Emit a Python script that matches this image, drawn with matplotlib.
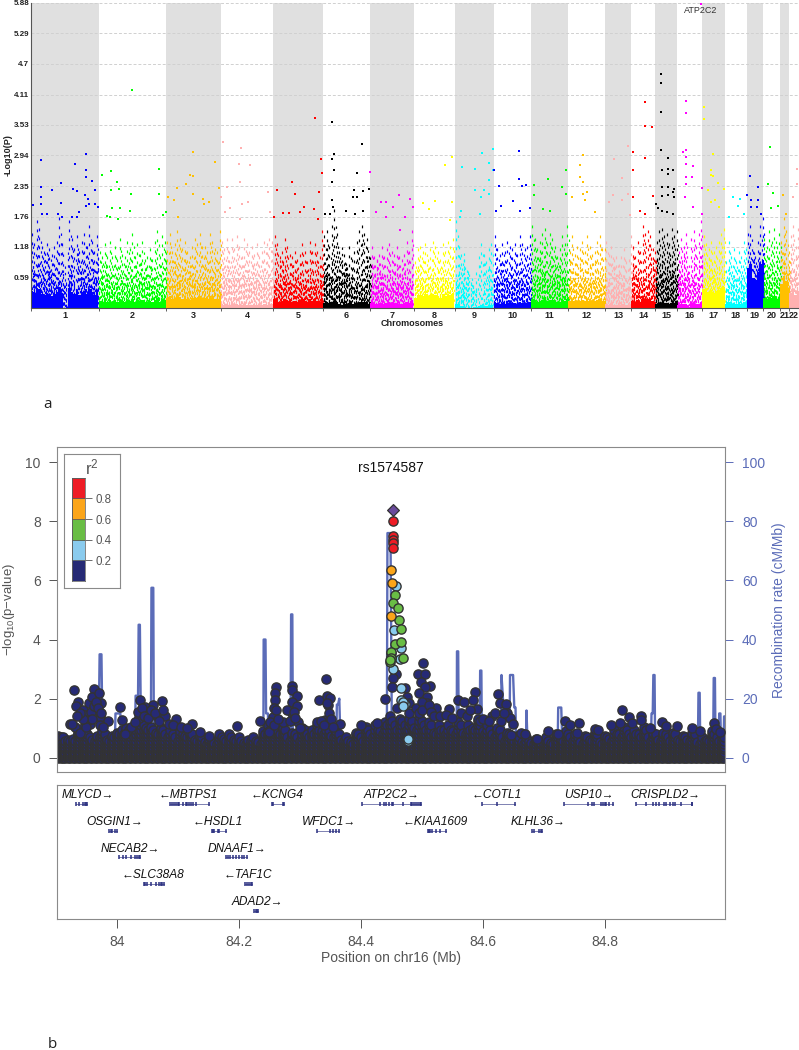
import numpy as np
import matplotlib
matplotlib.use("Agg")
import matplotlib.pyplot as plt

W, H = 799, 1050
plt.rcParams["font.family"] = ["Liberation Sans", "DejaVu Sans"]
plt.rcParams["mathtext.default"] = "regular"

# ---- panel a: genome axis is in arbitrary position units
chrom_names = ["1", "2", "3", "4", "5", "6", "7", "8", "9", "10", "11", "12", "13", "14",
               "15", "16", "17", "18", "19", "20", "21", "22"]
chrom_edges = [92, 296, 498, 662, 820, 969, 1111, 1242, 1365, 1481, 1593, 1705, 1815, 1894,
               1966, 2032, 2107, 2175, 2240, 2289, 2340, 2368, 2397]
chrom_colors = ["#0000FF", "#00FF00", "#FFC000", "#FFB0B0", "#FF0000", "#000000", "#FF00FF",
                "#FFFF00", "#00FFFF", "#0000FF", "#00FF00", "#FFC000", "#FFB0B0", "#FF0000",
                "#000000", "#FF00FF", "#FFFF00", "#00FFFF", "#0000FF", "#00FF00", "#FFC000",
                "#FFB0B0"]
y_ticks_a = [0.59, 1.18, 1.76, 2.35, 2.94, 3.53, 4.11, 4.7, 5.29, 5.88]

# height of the speckled mass along each chromosome
chrom_tops = [
    [1.45, 1.25, 1.7, 1.55, 1.2, 1.1, 1.25, 1.15, 1.05, 1.2, 1.3, 1.75, 1.25, 0.0, 0.05, 1.7, 1.35,
     1.15, 1.4, 1.1, 1.3, 1.45, 1.2, 1.6, 1.3, 1.1, 1.4],
    [1.1, 1.0, 1.25, 1.0, 1.3, 1.0, 1.2, 0.95, 1.35, 1.05, 1.0, 1.3, 1.15, 1.45, 1.0, 1.25, 1.05,
     1.3, 0.95, 1.0, 1.15, 0.95, 1.3, 1.5, 1.0, 1.4, 1.3],
    [1.3, 1.45, 1.1, 1.25, 1.5, 1.35, 1.15, 1.3, 1.1, 1.0, 1.2, 1.35, 1.25, 1.45, 1.2, 1.2, 1.1,
     1.45, 1.3, 1.15, 1.1, 1.5],
    [1.3, 1.15, 1.35, 1.1, 1.35, 1.15, 1.4, 1.2, 1.0, 1.35, 1.25, 1.1, 1.2, 1.05, 1.25, 1.0, 1.1,
     1.3, 1.25, 1.35, 1.3],
    [1.4, 1.25, 1.0, 1.1, 1.35, 1.2, 1.05, 1.0, 1.1, 0.95, 1.05, 1.25, 1.1, 0.9, 1.3, 1.1, 1.25,
     1.1, 1.0, 1.5],
    [1.4, 1.5, 1.2, 1.6, 1.9, 1.45, 1.1, 0.85, 1.05, 0.8, 1.2, 0.95, 1.1, 1.3, 1.5, 1.6, 1.45,
     1.35, 1.0],
    [1.2, 1.0, 0.95, 1.05, 1.2, 1.0, 1.15, 1.25, 1.1, 1.05, 1.2, 1.0, 0.95, 1.05, 1.3, 1.1, 1.5],
    [0.9, 1.15, 1.2, 1.1, 1.25, 0.95, 1.15, 1.3, 1.2, 1.1, 0.95, 1.25, 1.1, 1.3, 1.2, 1.35],
    [1.7, 1.2, 1.05, 0.95, 0.0, 0.0, 0.0, 0.35, 0.7, 1.0, 1.25, 1.05, 0.9, 1.15, 1.25],
    [1.4, 1.15, 1.05, 1.25, 1.1, 1.3, 1.2, 1.15, 1.25, 1.05, 1.4, 1.25, 1.15, 1.2, 1.4],
    [1.6, 1.35, 1.15, 1.3, 1.45, 1.55, 1.25, 1.45, 1.35, 1.2, 1.0, 1.15, 1.4, 1.25, 1.6],
    [1.1, 1.4, 1.05, 1.2, 1.15, 1.3, 1.1, 1.4, 1.2, 1.05, 1.1, 1.3, 1.4, 1.15, 1.15],
    [1.3, 1.05, 1.2, 0.95, 1.0, 0.85, 1.0, 1.15, 0.9, 0.95, 1.4],
    [1.2, 1.0, 1.3, 1.1, 1.6, 1.45, 1.5, 1.4, 1.15, 1.1],
    [1.3, 1.5, 1.55, 1.4, 1.45, 1.25, 1.55, 1.4, 1.5],
    [1.1, 1.35, 1.2, 1.45, 0.55, 1.35, 1.5, 1.2, 1.45, 1.7],
    [1.4, 1.25, 1.15, 1.3, 1.1, 1.2, 1.3, 1.45, 1.55],
    [0.9, 1.3, 1.0, 1.15, 0.9, 1.1, 1.0, 1.3, 1.15],
    [1.45, 1.6, 1.1, 1.0, 1.3, 1.6, 1.75],
    [1.35, 1.2, 1.5, 1.3, 1.55, 1.2, 1.45],
    [1.3, 1.75, 1.5, 1.1],
    [1.4, 1.6, 1.2, 1.55],
]
# height of the almost solid part at the foot of each chromosome
chrom_base = [0.3, 0.15, 0.2, 0.07, 0.15, 0.1, 0.1, 0.25, 0.05, 0.1, 0.15, 0.15, 0.07, 0.15, 0.1,
              0.08, 0.35, 0.1, 0.75, 0.2, 0.5, 0.3]

# separately readable points above the mass: (position, -log10 p)
chrom_hits = [
    [(122, 2.85), (124, 2.33), (122, 2.14), (122, 2.01), (98, 1.99), (155, 2.28), (182, 2.41),
     (182, 2.03), (225, 2.78), (218, 2.29), (232, 2.25), (258, 2.97), (258, 2.66), (258, 2.52),
     (277, 2.44), (255, 2.18), (265, 2.11), (285, 2.27), (258, 1.96), (285, 2.01), (268, 2.01),
     (295, 1.95), (175, 1.82), (185, 1.76), (142, 1.82), (125, 1.82), (238, 1.85), (217, 1.76),
     (230, 1.76)],
    [(397, 4.20), (306, 2.57), (334, 2.64), (351, 2.43), (357, 2.29), (332, 2.27), (392, 2.20),
     (477, 2.68), (477, 2.20), (390, 1.87), (360, 1.93), (335, 1.92), (320, 1.77), (330, 1.76),
     (353, 1.72), (490, 1.80), (497, 1.85)],
    [(580, 3.00), (645, 2.82), (570, 2.57), (580, 2.54), (557, 2.39), (530, 2.32), (505, 2.14),
     (523, 2.08), (580, 2.19), (608, 2.11), (612, 2.01), (628, 2.04), (658, 2.32), (535, 1.76)],
    [(670, 3.19), (724, 3.08), (718, 2.77), (750, 2.75), (720, 2.43), (680, 2.34), (664, 2.14),
     (803, 2.24), (745, 2.04), (725, 2.01), (690, 1.93), (675, 1.85), (810, 1.85), (720, 1.72)],
    [(944, 3.66), (963, 2.87), (965, 2.60), (875, 2.43), (830, 2.27), (885, 2.20), (958, 2.24),
     (912, 1.95), (900, 1.85), (848, 1.84), (867, 1.84), (943, 1.90), (955, 1.72), (822, 1.76)],
    [(995, 3.58), (1085, 3.16), (1002, 2.97), (997, 2.87), (1003, 2.65), (1071, 2.60), (996, 2.43),
     (1107, 2.29), (1088, 2.25), (1063, 2.27), (1060, 2.14), (1072, 2.14), (997, 2.08), (1000, 1.95),
     (1038, 1.87), (1065, 1.81), (1090, 1.87), (990, 1.82), (975, 1.82)],
    [(1111, 2.63), (1197, 2.17), (1142, 2.04), (1158, 2.04), (1178, 1.95), (1158, 1.76), (1128, 1.85),
     (1230, 2.11), (1215, 1.76), (1240, 1.95), (1200, 1.50)],
    [(1355, 2.91), (1335, 2.75), (1355, 2.04), (1305, 2.06), (1268, 2.03), (1288, 1.90), (1350, 1.69)],
    [(1387, 2.71), (1425, 2.68), (1447, 2.99), (1478, 3.07), (1468, 2.79), (1478, 2.66), (1468, 2.46),
     (1452, 2.27), (1425, 2.27), (1443, 2.14), (1468, 2.20), (1382, 1.88), (1380, 1.76), (1440, 1.82)],
    [(1557, 3.03), (1483, 2.65), (1498, 2.36), (1557, 2.48), (1565, 2.35), (1578, 2.38), (1502, 1.96),
     (1488, 1.88), (1540, 2.06), (1560, 1.87), (1590, 1.92)],
    [(1602, 2.38), (1643, 2.49), (1697, 2.65), (1687, 2.33), (1697, 2.20), (1602, 2.17), (1630, 1.90),
     (1650, 1.87)],
    [(1750, 2.94), (1740, 2.75), (1740, 2.52), (1748, 2.43), (1750, 2.20), (1715, 2.14), (1760, 2.24),
     (1755, 2.08), (1785, 1.85)],
    [(1842, 2.87), (1885, 3.13), (1865, 2.50), (1828, 2.04), (1840, 2.17), (1865, 2.08), (1885, 2.20),
     (1890, 1.79)],
    [(1934, 3.97), (1934, 3.50), (1956, 3.49), (1898, 3.01), (1898, 2.66), (1934, 2.89), (1900, 2.14),
     (1958, 2.15), (1935, 1.82), (1920, 1.87)],
    [(1983, 4.50), (1983, 4.33), (1982, 3.78), (1983, 3.05), (2003, 2.89), (1985, 2.65), (2003, 2.68),
     (2003, 2.59), (2018, 2.66), (1985, 2.34), (2003, 2.34), (2023, 2.30), (2018, 2.24), (1985, 2.16),
     (2003, 2.17), (2022, 2.14), (1968, 2.01), (1975, 1.93), (1985, 1.87), (2000, 1.86), (2018, 1.82)],
    [(2059, 3.99), (2059, 3.75), (2048, 3.01), (2059, 3.05), (2059, 2.91), (2059, 2.78), (2078, 2.73),
     (2076, 2.52), (2059, 2.52), (2059, 2.39), (2055, 2.14), (2103, 5.86), (2105, 2.31), (2080, 1.95),
     (2105, 1.82)],
    [(2113, 3.88), (2113, 3.64), (2140, 2.97), (2132, 2.65), (2132, 2.57), (2140, 2.55), (2125, 2.27),
     (2155, 2.41), (2145, 2.09), (2132, 2.04), (2172, 2.29), (2157, 1.95)],
    [(2200, 2.14), (2220, 2.11), (2213, 1.96), (2187, 1.76), (2233, 1.82)],
    [(2250, 2.55), (2275, 2.33), (2242, 2.18), (2252, 2.08), (2275, 2.08), (2252, 1.95), (2272, 1.95),
     (2283, 1.82)],
    [(2310, 3.10), (2303, 2.39), (2320, 2.22), (2335, 1.97), (2313, 1.92)],
    [(2350, 2.18), (2358, 1.82)],
    [(2390, 2.68), (2392, 2.39), (2380, 2.14)],
]

# ---- panel b: LocusZoom plot of chr16
lead_x, lead_y = [84.4525], [8.38]
red_x = [84.4535, 84.4525, 84.4525, 84.453, 84.4525]
red_y = [8.0, 7.5, 7.36, 7.25, 7.1]
orange_x = [84.450, 84.451, 84.4505]
orange_y = [6.35, 5.9, 4.8]
green_x = [84.4557, 84.4535, 84.461, 84.463, 84.4655, 84.4565, 84.467, 84.470, 84.4497, 84.4497,
           84.448, 84.4505, 84.4500, 84.4480]
green_y = [5.50, 5.24, 5.05, 4.66, 4.37, 3.85, 3.90, 3.36, 3.56, 3.42, 3.25, 3.58, 3.38, 3.30]
light_x = [84.4574, 84.4547, 84.467, 84.4645, 84.4535, 84.4655, 84.467, 84.4725, 84.478, 84.4690,
           84.4700, 84.4775]
light_y = [5.81, 4.33, 3.70, 3.33, 3.02, 2.35, 1.95, 1.82, 0.57, 1.90, 1.75, 0.65]
navy_x = [83.930, 83.937, 83.933, 83.923, 83.932, 83.940, 83.945, 83.954, 83.963, 83.959, 83.971,
          83.975, 83.967, 83.972, 83.956, 83.985, 83.973, 84.005, 84.009, 84.023, 84.014, 84.039,
          84.037, 84.049, 84.060, 84.074, 84.066, 84.080, 84.046, 84.098, 84.123, 84.137, 84.151,
          84.198, 84.235, 84.261, 84.260, 84.260, 84.258, 84.256, 84.250, 84.287, 84.287, 84.295,
          84.287, 84.296, 84.287, 84.298, 84.273, 84.343, 84.331, 84.345, 84.350, 84.347, 84.366,
          84.342, 84.328, 84.401, 84.427, 84.440, 84.458, 84.4535, 84.452, 84.5027, 84.4945, 84.505,
          84.4985, 84.5145, 84.505, 84.495, 84.5085, 84.4725, 84.476, 84.5085, 84.524, 84.5455,
          84.560, 84.5695, 84.479, 84.459, 84.587, 84.625, 84.584, 84.628, 84.638, 84.591, 84.640,
          84.645, 84.615, 84.601, 84.631, 84.663, 84.647, 84.669, 84.689, 84.707, 84.724, 84.735,
          84.743, 84.758, 84.754, 84.785, 84.789, 84.811, 84.825, 84.829, 84.840, 84.845, 84.859,
          84.860, 84.874, 84.894, 84.900, 84.918, 84.944, 84.957, 84.980, 84.982, 84.990,
          83.948, 83.952, 83.958, 83.962, 83.966, 83.970, 83.975, 83.950, 83.960, 83.945, 83.940,
          83.935, 83.927, 83.978, 84.030, 84.035, 84.042, 84.045, 84.052, 84.056, 84.063, 84.070,
          84.076, 84.085, 84.092, 84.105, 84.115, 84.252, 84.258, 84.262, 84.264, 84.280, 84.284,
          84.290, 84.292, 84.300, 84.335, 84.340, 84.348, 84.352, 84.345, 84.355, 84.480, 84.490,
          84.495, 84.500, 84.500, 84.512, 84.515, 84.520, 84.530, 84.540, 84.550, 84.565, 84.575,
          84.580, 84.610, 84.620, 84.635, 84.650]
navy_y = [2.29, 1.89, 1.76, 1.16, 1.05, 0.85, 1.61, 1.84, 2.31, 2.06, 2.18,
          1.84, 1.61, 1.39, 1.16, 1.24, 1.10, 1.72, 1.27, 1.03, 0.82, 1.97,
          1.33, 1.56, 1.78, 1.93, 1.41, 1.42, 1.72, 1.30, 1.16, 0.88, 0.73,
          1.07, 1.25, 2.40, 2.18, 1.95, 1.69, 1.39, 0.86, 2.42, 2.29, 2.10,
          1.89, 1.76, 1.50, 1.22, 1.22, 2.65, 1.97, 2.09, 2.01, 1.78, 1.13,
          1.27, 1.22, 1.10, 1.18, 1.98, 2.83, 2.69, 2.40, 3.22, 2.85, 2.85,
          2.55, 2.42, 2.38, 2.18, 2.06, 2.35, 2.05, 1.84, 1.69, 1.64,
          1.97, 1.90, 1.85, 1.70, 2.22, 2.16, 1.96, 1.85, 1.82, 1.65, 1.51,
          1.34, 1.42, 1.31, 1.23, 0.83, 0.78, 0.80, 0.63, 0.90, 0.81, 1.26,
          1.12, 1.19, 0.83, 0.97, 0.95, 1.12, 1.19, 1.61, 1.38, 1.17, 1.42,
          1.29, 1.00, 1.21, 1.08, 1.06, 1.00, 0.89, 1.19, 0.97, 0.86,
          1.45, 1.25, 1.55, 1.75, 1.90, 1.70, 1.50, 1.05, 1.30, 1.30, 1.50,
          1.40, 1.15, 1.05, 1.20, 1.55, 1.70, 1.40, 1.35, 1.60, 1.50, 1.25,
          1.60, 1.15, 1.10, 1.05, 1.00, 1.20, 1.10, 1.60, 1.30, 1.60, 1.25,
          1.55, 1.35, 1.00, 1.25, 1.10, 1.50, 1.30, 1.85, 1.05, 1.50, 1.70,
          1.50, 1.90, 1.60, 1.80, 1.55, 1.40, 1.40, 1.45, 1.35, 1.50, 1.40,
          1.60, 1.25, 1.50, 1.50, 1.15]
# top of the crowded lower band, one value per 0.008 Mb from 83.904
band_tops = [0.75, 0.7, 0.6, 0.65, 0.85, 1.0, 0.8, 0.6, 0.75, 0.9,
             0.6, 0.75, 0.85, 0.95, 1.0, 0.8, 1.2, 1.25, 1.0, 1.05,
             0.85, 1.0, 0.8, 0.95, 0.7, 0.9, 0.75, 0.85, 0.6, 0.75,
             0.55, 0.65, 0.5, 0.8, 0.65, 0.8, 0.6, 0.7, 0.5, 0.6,
             0.7, 0.55, 0.9, 1.1, 0.85, 0.9, 1.0, 0.7, 0.85, 0.7,
             1.0, 0.8, 0.95, 1.1, 0.9, 1.1, 0.75, 0.9, 0.6, 0.7,
             0.55, 0.85, 0.7, 1.05, 0.8, 1.1, 0.9, 1.2, 1.4, 1.1,
             1.3, 1.1, 1.3, 1.0, 1.4, 1.1, 1.2, 0.85, 1.1, 0.95,
             1.1, 0.9, 1.2, 0.85, 1.1, 1.0, 1.3, 0.9, 1.1, 0.8,
             1.0, 0.7, 0.85, 0.6, 0.75, 0.55, 0.7, 0.5, 0.65, 0.5,
             0.7, 0.5, 0.8, 0.65, 0.9, 0.7, 0.8, 0.55, 0.75, 0.6,
             0.85, 0.55, 0.75, 0.65, 0.95, 0.8, 1.05, 0.8, 0.95, 0.8,
             1.05, 0.7, 0.85, 0.6, 0.85, 0.7, 0.85, 0.6, 0.75, 0.6,
             0.85, 0.55, 0.7, 0.6, 0.9, 0.7, 0.8]
band_levels = [0.0, 0.07, 0.14, 0.21, 0.29, 0.38, 0.47, 0.58, 0.7, 0.82, 0.95, 1.1, 1.25]

rec_x = [83.905, 83.970, 83.972, 83.975, 83.977, 83.997, 83.998, 84.006, 84.007, 84.030, 84.031, 84.035,
         84.036, 84.038, 84.040, 84.056, 84.057, 84.060, 84.061, 84.2405, 84.241, 84.244, 84.245, 84.248,
         84.249, 84.285, 84.286, 84.288, 84.289, 84.360, 84.361, 84.363, 84.365, 84.367, 84.443, 84.444,
         84.449, 84.451, 84.453, 84.5575, 84.558, 84.560, 84.561, 84.595, 84.596, 84.598, 84.599, 84.630,
         84.631, 84.634, 84.636, 84.644, 84.645, 84.650, 84.652, 84.654, 84.655, 84.671, 84.672, 84.674,
         84.723, 84.724, 84.729, 84.731, 84.876, 84.877, 84.879, 84.880, 84.882, 84.883, 84.953, 84.954,
         84.956, 84.957, 84.978, 84.979, 84.981, 84.982, 84.987, 84.988, 84.990, 84.991, 84.995, 84.996,
         84.997]
rec_rate = [5, 3, 35, 35, 3, 4, 15, 15, 4, 5, 21, 21,
            45, 45, 5, 5, 57.5, 57.5, 5, 5, 40, 40, 15, 15,
            3, 3, 48.5, 48.5, 3, 3, 18, 18, 20, 5, 5, 76,
            76, 15, 3, 3, 36, 36, 3, 3, 29.5, 29.5, 3, 3,
            28, 18, 3, 3, 28, 28, 17, 17, 3, 3, 16, 3,
            3, 17, 17, 3, 3, 15, 15, 28, 28, 3, 3, 22,
            22, 3, 3, 27, 27, 3, 3, 15, 15, 3, 3, 14,
            14]

r2_bounds = [0.0, 0.2, 0.4, 0.6, 0.8, 1.0]
r2_colors = ["#262A75", "#8ACBEE", "#69BD45", "#FBA51A", "#EE1C25"]
r2_labels = ["0.2", "0.4", "0.6", "0.8"]

gene_names = ["MLYCD", "MBTPS1", "KCNG4", "ATP2C2", "COTL1", "USP10", "CRISPLD2", "OSGIN1", "HSDL1",
              "WFDC1", "KIAA1609", "KLHL36", "NECAB2", "DNAAF1", "SLC38A8", "TAF1C", "ADAD2"]
gene_rows = [0, 0, 0, 0, 0, 0, 0, 1, 1, 1, 1, 1, 2, 2, 3, 3, 4]
gene_strand = [1, -1, -1, 1, -1, 1, 1, 1, -1, 1, -1, 1, 1, 1, -1, -1, 1]
gene_label_x = [83.953, 84.117, 84.263, 84.451, 84.624, 84.775, 84.900, 83.996, 84.166, 84.348,
                84.523, 84.691, 84.022, 84.197, 84.059, 84.215, 84.230]
gene_start = [83.933, 84.088, 84.255, 84.402, 84.599, 84.733, 84.852, 83.987, 84.156, 84.328,
              84.510, 84.681, 84.003, 84.179, 84.044, 84.211, 84.225]
gene_end = [83.951, 84.152, 84.274, 84.499, 84.653, 84.814, 84.944, 84.001, 84.180, 84.364,
            84.540, 84.697, 84.038, 84.213, 84.078, 84.222, 84.232]
gene_exons = [
    [83.933, 83.939, 83.945, 83.948, 83.950, 83.951],
    [84.088, 84.091, 84.094, 84.098, 84.100, 84.102, 84.108, 84.113, 84.116, 84.119, 84.122, 84.125, 84.130, 84.152],
    [84.255, 84.257, 84.272, 84.274],
    [84.402, 84.432, 84.438, 84.442, 84.446, 84.451, 84.453, 84.470, 84.482, 84.485, 84.488, 84.491, 84.494, 84.497, 84.499],
    [84.599, 84.624, 84.653],
    [84.733, 84.773, 84.779, 84.782, 84.794, 84.797, 84.800, 84.803, 84.808, 84.814],
    [84.852, 84.868, 84.880, 84.884, 84.890, 84.898, 84.901, 84.908, 84.912, 84.915, 84.925, 84.943, 84.944],
    [83.987, 83.990, 83.993, 83.997, 84.001],
    [84.156, 84.158, 84.160, 84.166, 84.168, 84.180],
    [84.328, 84.350, 84.355, 84.360, 84.364],
    [84.510, 84.512, 84.514, 84.517, 84.523, 84.530, 84.540],
    [84.681, 84.685, 84.693, 84.695, 84.697],
    [84.003, 84.010, 84.015, 84.023, 84.030, 84.033, 84.036, 84.038],
    [84.179, 84.183, 84.186, 84.190, 84.195, 84.200, 84.205, 84.209, 84.213],
    [84.044, 84.047, 84.050, 84.057, 84.065, 84.069, 84.072, 84.075, 84.078],
    [84.211, 84.214, 84.217, 84.220, 84.222],
    [84.225, 84.228, 84.230, 84.232],
]


def px_axes(fig, left, top, right, bottom, **kwargs):
    return fig.add_axes([left / W, 1 - bottom / H, (right - left) / W, (bottom - top) / H], **kwargs)


def draw_manhattan(ax):
    step = 7.5
    for i, tops in enumerate(chrom_tops):
        lo, hi = chrom_edges[i], chrom_edges[i + 1]
        color = chrom_colors[i]
        if i % 2 == 0:
            ax.axvspan(lo, hi, color="#E0E0E0", lw=0, zorder=0)
        tops = np.array(tops)
        x = lo + step * (np.arange(len(tops)) + 0.5)
        x = x[x < hi]
        tops = tops[:len(x)]
        # lines run from the top down so the dashes do not line up across columns
        ax.vlines(x, tops, 0, color=color, lw=0.85, linestyles=(0, (2.4, 5.2)), zorder=2)
        ax.vlines(x + step / 2, tops * 0.83, 0, color=color, lw=0.85, linestyles=(0, (2.0, 6.3)), zorder=2)
        ax.vlines(x + step / 4, np.roll(tops, 3) * 0.62, 0, color=color, lw=0.85, linestyles=(0, (2.0, 3.4)), zorder=2)
        ax.vlines(x - step / 4, np.roll(tops, 5) * 0.42, 0, color=color, lw=0.85, linestyles=(0, (3.0, 1.7)), zorder=2)
        mask = tops > 0
        ax.bar(x[mask], chrom_base[i] * tops[mask] / tops[mask].mean(), width=step, color=color, lw=0, zorder=2)
        hits = np.array(chrom_hits[i])
        ax.scatter(hits[:, 0], hits[:, 1], s=3.0, marker="s", color=color, lw=0, zorder=3)

    ax.set_xlim(chrom_edges[0], chrom_edges[-1])
    ax.set_ylim(0, 5.88)
    for v in y_ticks_a:
        ax.axhline(v, color="#D0D0D0", lw=0.7, ls=(0, (3, 2)), zorder=1)
    ax.set_yticks(y_ticks_a, [f"{v:g}" for v in y_ticks_a])
    ax.set_xticks(chrom_edges)
    ax.set_xticklabels([])
    centers = [(a + b) / 2 for a, b in zip(chrom_edges[:-1], chrom_edges[1:])]
    ax.set_xticks(centers, chrom_names, minor=True)
    ax.tick_params(axis="x", which="major", length=2, width=0.6, color="#444444")
    ax.tick_params(axis="x", which="minor", length=0, pad=2, labelsize=6.5, labelcolor="#222222")
    ax.tick_params(axis="y", length=0, pad=1, labelsize=5.8, labelcolor="#222222")
    for t in ax.get_xticklabels(minor=True) + ax.get_yticklabels():
        t.set_fontweight("bold")
    ax.spines[["top", "right"]].set_visible(False)
    ax.spines[["left", "bottom"]].set_color("#555555")
    ax.text(2103, 5.72, "ATP2C2", fontsize=6.5, color="#333333", ha="center", va="center", zorder=5)


def draw_locus(ax):
    ink = "#555555"
    twin = ax.twinx()
    twin.plot(rec_x, rec_rate, color="#5B6CB8", lw=1.7, solid_joinstyle="round")
    twin.set_ylim(-4.9, 105)
    twin.set_yticks([0, 20, 40, 60, 80, 100])
    twin.set_ylabel("Recombination rate (cM/Mb)", color="#5B6CB8", fontsize=10, labelpad=5, rotation=90)
    twin.tick_params(axis="y", colors="#5B6CB8", labelsize=10, length=6, width=0.7, pad=6)
    for s in twin.spines.values():
        s.set_visible(False)
    ax.set_zorder(twin.get_zorder() + 1)
    ax.patch.set_visible(False)

    kw = dict(s=44, edgecolors="#333333", linewidths=1.0)
    band_x = 83.904 + 0.008 * np.arange(len(band_tops))
    for bx, top in zip(band_x, band_tops):
        ys = [lv for lv in band_levels if lv < top] + [top]
        ax.scatter([bx] * len(ys), ys, color=r2_colors[0], zorder=2, **kw)
        ax.scatter([bx + 0.004] * len(ys[:-1]), ys[:-1], color=r2_colors[0], zorder=2, **kw)
    ax.scatter(navy_x, navy_y, color=r2_colors[0], zorder=3, **kw)
    ax.scatter(light_x, light_y, color=r2_colors[1], zorder=4, **kw)
    ax.scatter(green_x, green_y, color=r2_colors[2], zorder=5, **kw)
    ax.scatter(orange_x, orange_y, color=r2_colors[3], zorder=6, **kw)
    ax.scatter(red_x, red_y, color=r2_colors[4], zorder=7, **kw)
    ax.scatter(lead_x, lead_y, color="#6A4A9C", marker="D", s=36, edgecolors="#333333", linewidths=0.9, zorder=8)

    ax.set_xlim(83.9026, 84.998)
    ax.set_ylim(-0.49, 10.5)
    ax.set_yticks([0, 2, 4, 6, 8, 10])
    ax.set_xticks([])
    ax.tick_params(axis="y", colors=ink, labelsize=10, length=6, width=0.7, pad=6)
    ax.set_ylabel("\u2212log$_{10}$(p\u2212value)", color=ink, fontsize=9.5)
    ax.yaxis.set_label_coords(-0.06, 0.5)
    for s in ax.spines.values():
        s.set_color("#8A8A8A")
    ax.text(84.45, 9.8, "rs1574587", fontsize=10, color="#111111", ha="center", va="center")


def draw_r2_key(fig):
    frame = px_axes(fig, 64.3, 454.3, 120, 587.7)
    frame.set_xticks([])
    frame.set_yticks([])
    for s in frame.spines.values():
        s.set_color("#8A8A8A")
    frame.set_zorder(10)
    frame.text(0.5, 0.9, "r$^2$", transform=frame.transAxes, fontsize=12, color="#555555", ha="center", va="center")

    key = px_axes(fig, 72, 477.7, 85.3, 581)
    key.set_zorder(11)
    key.bar([0] * 5, np.diff(r2_bounds), bottom=r2_bounds[:-1], width=1, color=r2_colors,
            edgecolor="#555555", linewidth=0.5)
    key.set_xlim(-0.5, 0.5)
    key.set_ylim(0, 1)
    key.set_xticks([])
    key.yaxis.tick_right()
    key.set_yticks(r2_bounds[1:-1], r2_labels)
    key.tick_params(axis="y", colors="#555555", labelsize=8.3, length=5, width=0.6, pad=2)
    for s in key.spines.values():
        s.set_color("#555555")
        s.set_linewidth(0.5)


def draw_genes(ax):
    ink = "#555555"
    navy = "#2A2F80"
    for i, name in enumerate(gene_names):
        row = gene_rows[i]
        ax.plot([gene_start[i], gene_end[i]], [row, row], color=navy, lw=0.6, alpha=0.7)
        ax.vlines(gene_exons[i], row - 0.08, row + 0.08, color=navy, lw=1.1)
        label = f"{name}\u2192" if gene_strand[i] > 0 else f"\u2190{name}"
        ax.text(gene_label_x[i], row - 0.33, label, fontsize=8.6, style="italic", color="#111111",
                ha="center", va="center")
    ax.set_xlim(83.9026, 84.998)
    ax.set_ylim(4.30, -0.70)
    ax.set_yticks([])
    ax.set_xticks([84, 84.2, 84.4, 84.6, 84.8], ["84", "84.2", "84.4", "84.6", "84.8"])
    ax.tick_params(axis="x", colors=ink, labelsize=10, length=6.5, width=0.7, pad=5)
    ax.set_xlabel("Position on chr16 (Mb)", color=ink, fontsize=10, labelpad=2)
    for s in ax.spines.values():
        s.set_color("#8A8A8A")


fig = plt.figure(figsize=(W / 100, H / 100), dpi=100)

ax_a = px_axes(fig, 30.7, 2.5, 799, 308.3)
draw_manhattan(ax_a)
fig.text(412 / W, 1 - 324 / H, "Chromosomes", fontsize=6.5, fontweight="bold", color="#222222", ha="center", va="center")
fig.text(8 / W, 1 - 155 / H, "-Log10(P)", fontsize=6.5, fontweight="bold", color="#222222", rotation=90, ha="center", va="center")

ax_b = px_axes(fig, 57.3, 447.3, 725.3, 772.3)
draw_locus(ax_b)
draw_r2_key(fig)

ax_g = px_axes(fig, 57.3, 785.3, 725.3, 918.7)
draw_genes(ax_g)

fig.text(48 / W, 1 - 405 / H, "a", fontsize=11, family="Open Sans", color="#222222", ha="center", va="center")
fig.text(52 / W, 1 - 1044 / H, "b", fontsize=11, family="Open Sans", color="#222222", ha="center", va="center")

fig.savefig("out.png", dpi=100)
